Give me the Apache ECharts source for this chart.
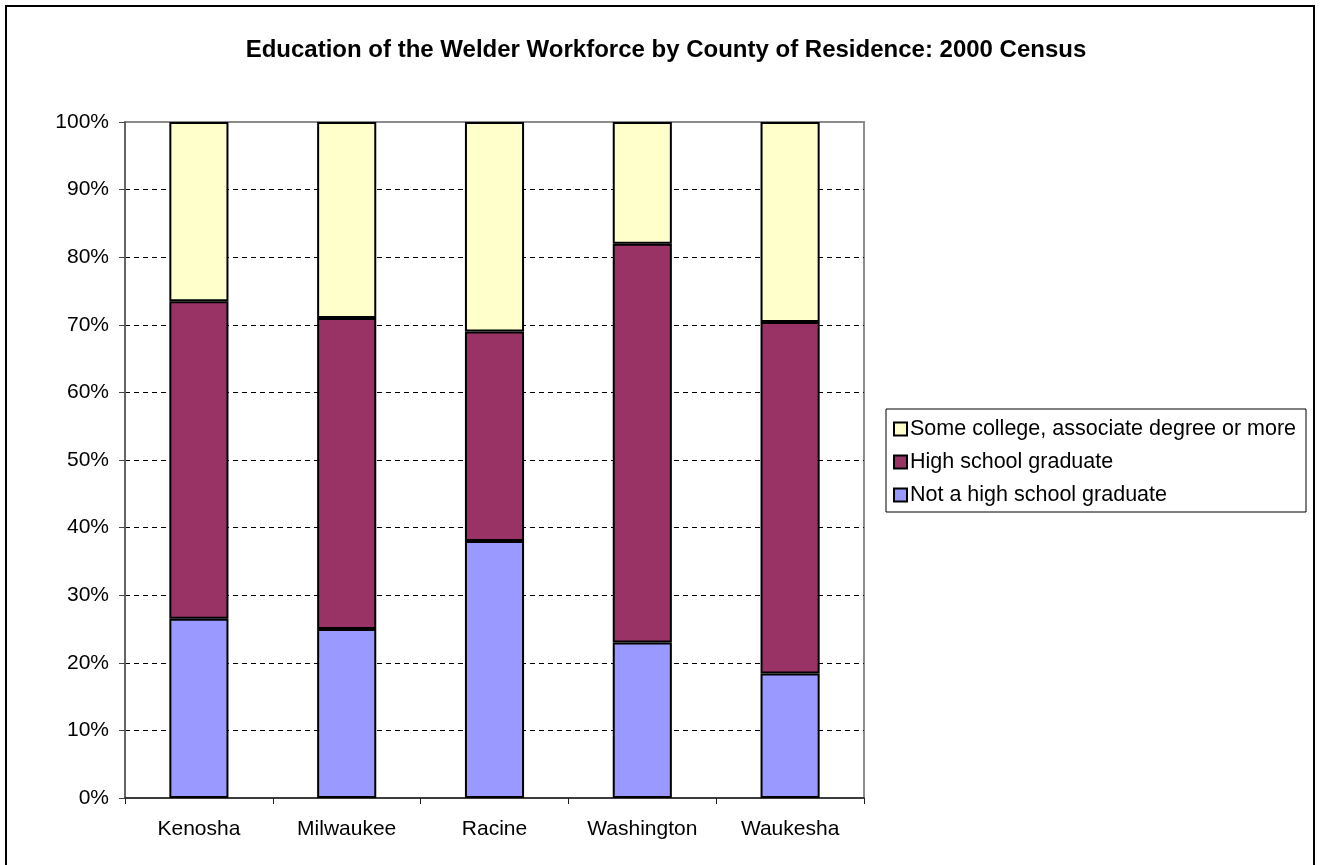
<!DOCTYPE html>
<html>
<head>
<meta charset="utf-8">
<script src="https://cdn.jsdelivr.net/npm/echarts@6/dist/echarts.min.js"></script>
<style>
html,body{margin:0;padding:0;background:#fff;}
#chart{width:1320px;height:865px;}
</style>
</head>
<body>
<div id="chart"></div>
<script>
const titleText = 'Education of the Welder Workforce by County of Residence: 2000 Census';
const categories = ['Kenosha', 'Milwaukee', 'Racine', 'Washington', 'Waukesha'];
const notHighSchool = [26.5, 25, 38, 23, 18.4];
const highSchool = [47, 46, 31, 59, 52];
const someCollege = [26.5, 29, 31, 18, 29.6];
const seriesNames = ['Not a high school graduate', 'High school graduate', 'Some college, associate degree or more'];
const seriesColors = ['#9999FF', '#993366', '#FFFFCC'];
const yTicks = [0, 10, 20, 30, 40, 50, 60, 70, 80, 90, 100];

const font = 'Arial, "Liberation Sans", Helvetica, sans-serif';
const chart = echarts.init(document.getElementById('chart'), null, {renderer: 'canvas'});

const values = [notHighSchool, highSchool, someCollege];
const gridColors = yTicks.map((v, i) => (i === 0 || i === yTicks.length - 1) ? 'rgba(0,0,0,0)' : '#000');

const option = {
  backgroundColor: '#fff',
  animation: false,
  title: {
    text: titleText,
    left: 661,
    textAlign: 'center',
    top: 33,
    textStyle: {fontFamily: font, fontSize: 24, fontWeight: 'bold', color: '#000'}
  },
  graphic: [{
    type: 'rect',
    shape: {x: 6, y: 6, width: 1308, height: 880},
    style: {fill: null, stroke: '#000', lineWidth: 2},
    silent: true
  }],
  legend: {
    orient: 'vertical',
    left: 886,
    top: 409,
    data: [seriesNames[2], seriesNames[1], seriesNames[0]],
    icon: 'rect',
    itemWidth: 13,
    itemHeight: 13,
    itemGap: 11,
    padding: [9, 10, 6, 7],
    borderColor: '#000',
    borderWidth: 1,
    textStyle: {fontFamily: font, fontSize: 21.5, color: '#000', padding: [0, 0, 0, -2]}
  },
  grid: {
    left: 125, top: 122, width: 739, height: 676,
    show: true, borderColor: '#8c8c8c', borderWidth: 2, backgroundColor: '#fff'
  },
  xAxis: {
    type: 'category',
    data: categories,
    axisLine: {lineStyle: {color: '#222', width: 1.5}},
    axisTick: {show: true, length: 6, alignWithLabel: false, lineStyle: {color: '#222'}},
    axisLabel: {fontFamily: font, fontSize: 21, color: '#000', margin: 21}
  },
  yAxis: {
    type: 'value',
    min: 0, max: 100, interval: 10,
    axisLine: {show: true, lineStyle: {color: '#666', width: 2}},
    axisTick: {show: true, length: 6, lineStyle: {color: '#444'}},
    axisLabel: {fontFamily: font, fontSize: 21, color: '#000', margin: 16, formatter: '{value}%'},
    splitLine: {show: true, lineStyle: {color: gridColors, type: [5, 4], width: 1}}
  },
  series: values.map((vals, i) => ({
    name: seriesNames[i],
    type: 'bar',
    stack: 'total',
    data: vals,
    barWidth: '40%',
    itemStyle: {color: seriesColors[i], borderColor: '#000', borderWidth: 2}
  }))
};
chart.setOption(option);
</script>
</body>
</html>
